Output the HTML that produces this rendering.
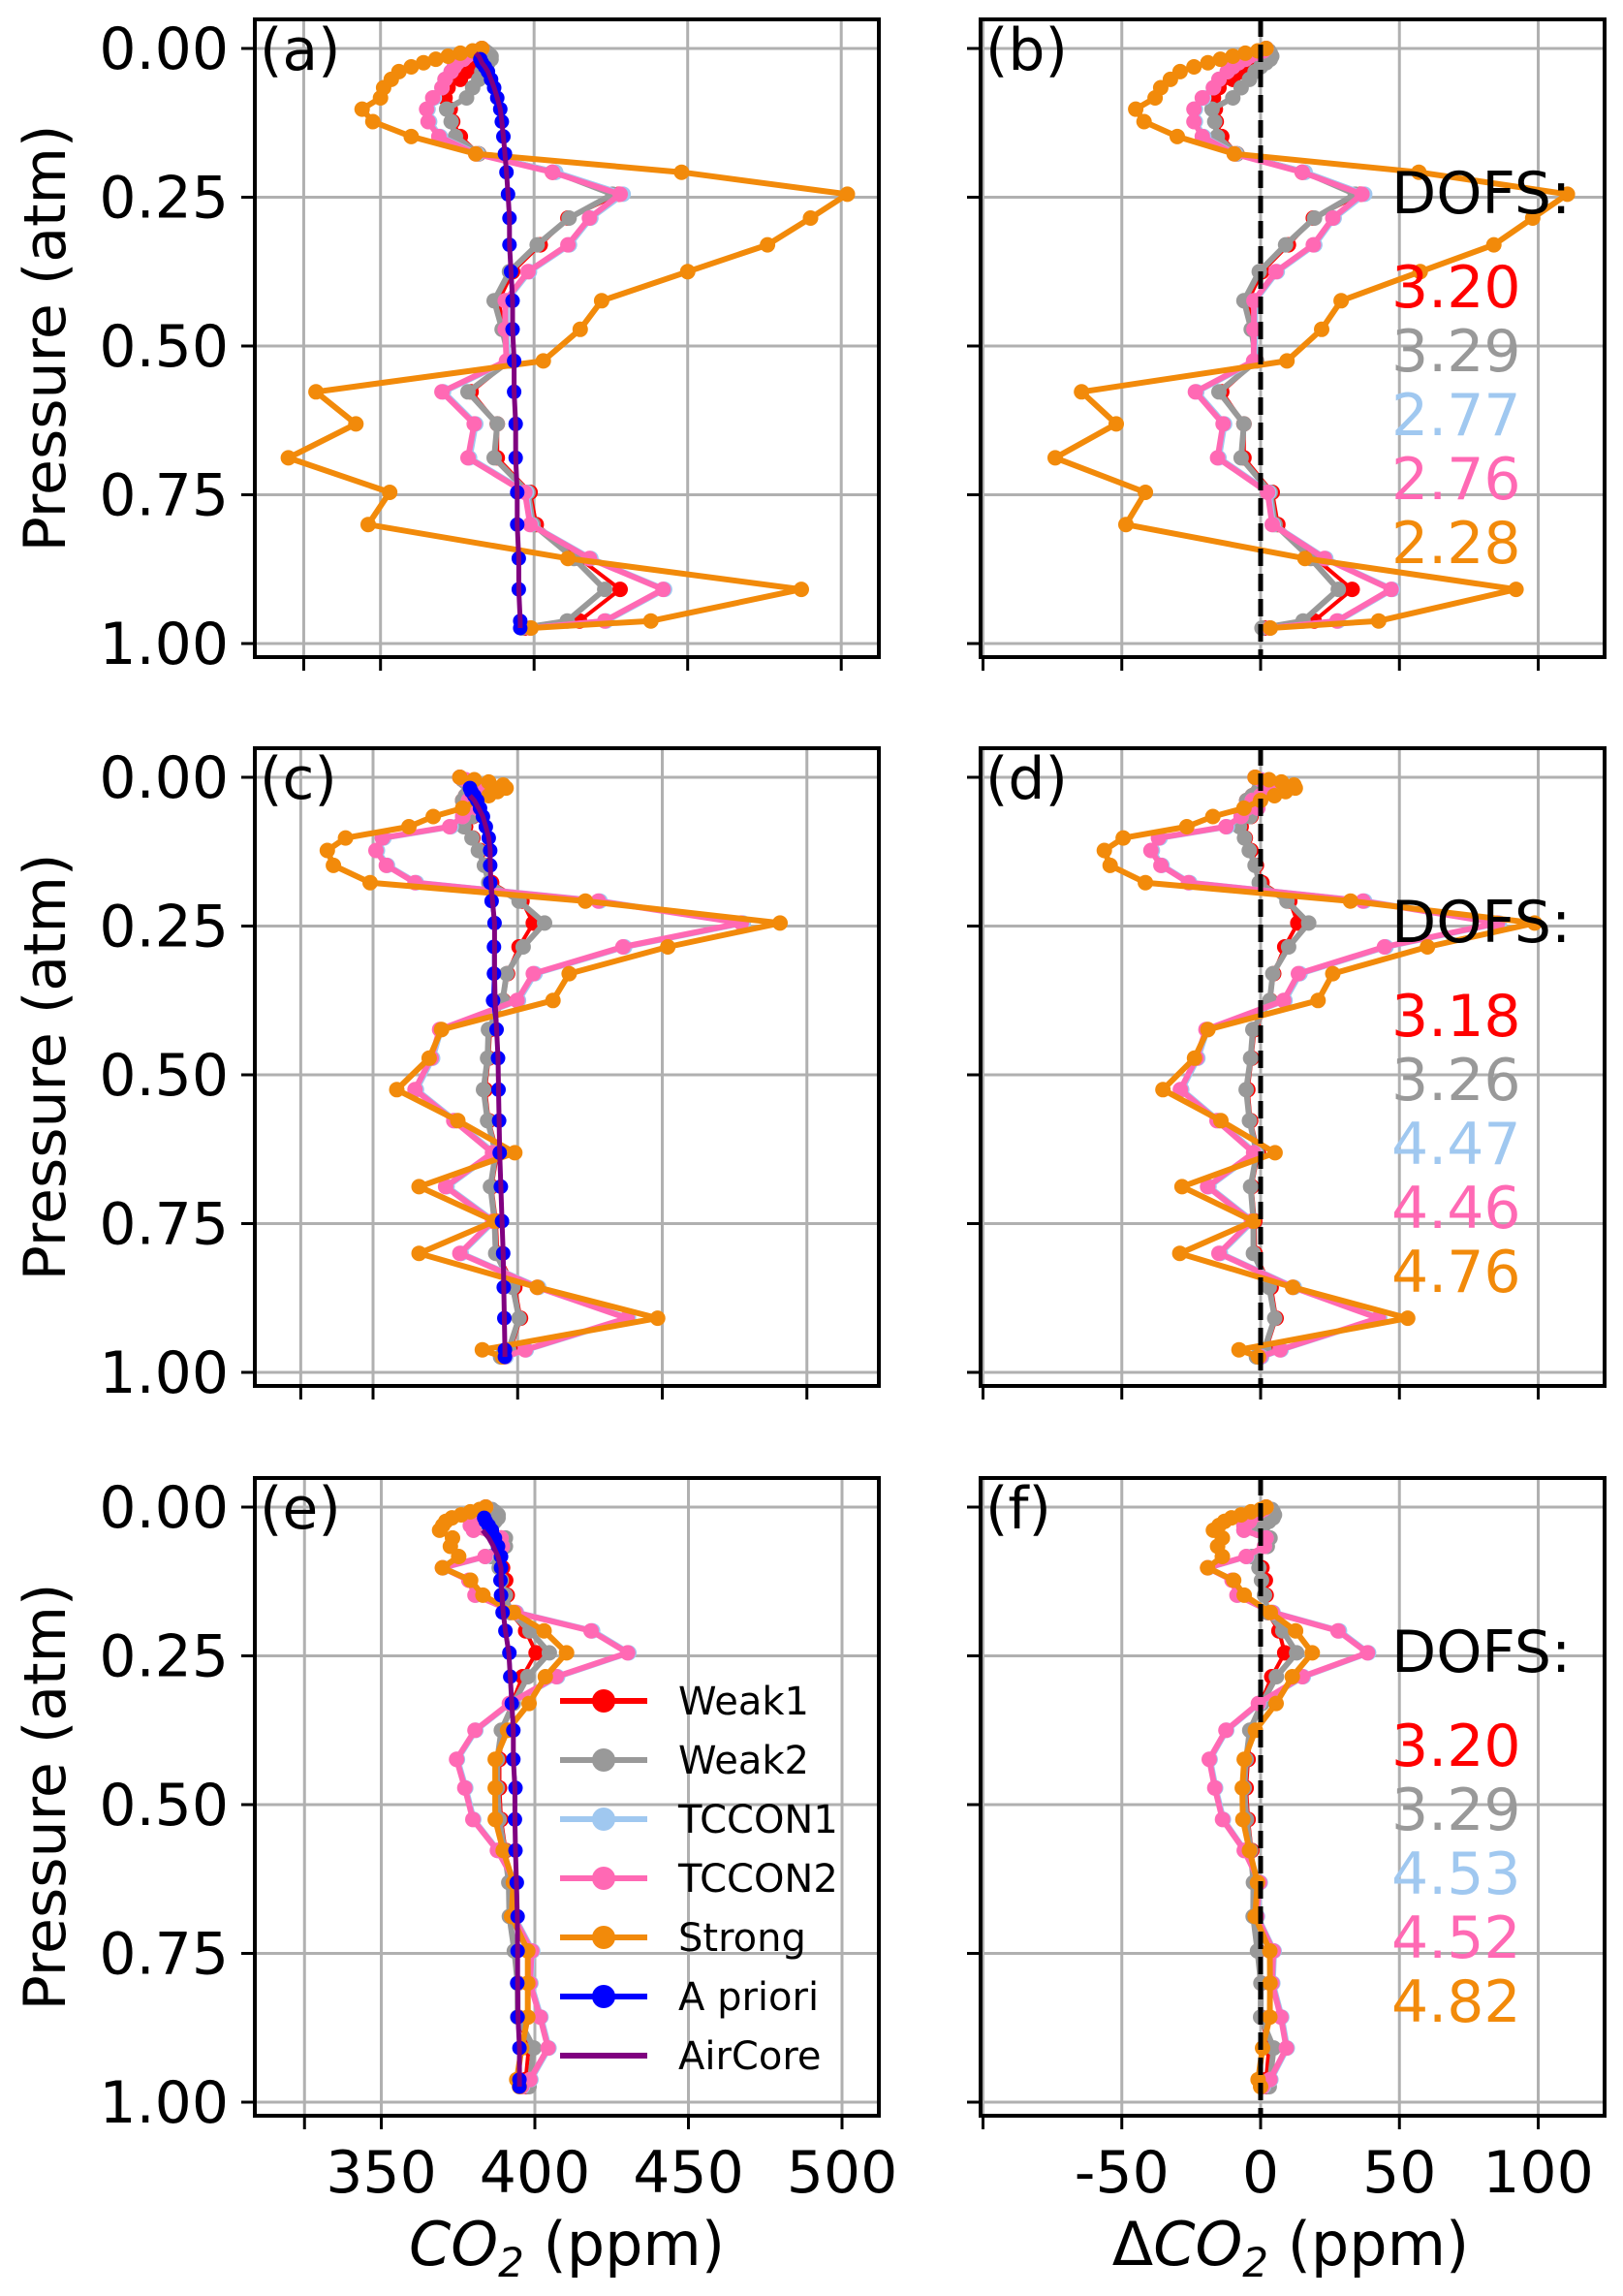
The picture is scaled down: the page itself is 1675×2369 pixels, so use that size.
<!DOCTYPE html>
<html><head><meta charset="utf-8"><style>
html,body{margin:0;padding:0;background:#fff}
svg{display:block;font-family:"DejaVu Sans","Liberation Sans",sans-serif}
</style></head><body>
<svg id="chart" xmlns="http://www.w3.org/2000/svg" width="1675" height="2369" viewBox="0 0 1675 2369"></svg>
<script>
const levels = [0,0.004,0.008,0.013,0.018,0.024,0.031,0.039,0.052,0.066,0.083,0.102,0.123,0.148,0.177,0.208,0.245,0.285,0.33,0.375,0.424,0.472,0.525,0.577,0.631,0.688,0.746,0.80,0.857,0.909,0.962,0.974];
// panel (a)
const weak1A = [383,383,383,382,381,380,379,378,376,372,371,372.7,373.5,376,382,406,427.6,411,402,393,388.5,390,392,379.5,388,388,398.7,400.7,414.8,428,414.8,397];
const weak2A = [383,384,385,386,386,385,384,383,382,380,378,371.5,373,374.4,382,407,425.6,411.4,401,392,387,389.6,392,378.5,388,387,398,399.7,413,423,410.8,396];
const tccon1A = [383,382,380,378,377,375,374,373,371,370,367.5,365.5,366,369.5,381.5,407,429,418.5,411.5,398.5,391,391,391.5,370.5,381,379,397.5,399,418.5,442.5,423.5,399];
const tccon2A = [383,382,380,378,377,375,374,373,371,370,367,365,365.5,369,381,406,428,418,411,398,390.6,390.6,391,370,380.5,378.5,397,398.7,418,442,423,398.7];
const strongA = [383,380,376,372,368,364,360,356,353.5,351,350,344,347.5,360,381,448,502,490,476,450,422,415,403,329,342,320,353,346,411,487,438,399];
const aprioriA = [381,381,381.5,382,382.5,383,384,385,386,387,388,389,389.5,390,390.5,391,391.5,392,392,392.5,393,393,393.5,393.5,394,394,394.5,394.5,395,395,395.5,395.5];
const aircoreA = [null,null,381,382,382.5,383,384,385,386,387,388,389,389.5,390,390.5,391,391.5,392,392,392.5,393,393,393.5,393.5,394,394,394.5,394.5,395,395,395.5,395.5];
// panel (c)
const weak1C = [380,381,382,383,384,383,382,381,383,384.5,382,384.5,387,389,391,401.5,405.4,400.5,396.5,395,390.5,390,388.8,390,393,391,392.5,393,399,401,397.5,394.5];
const weak2C = [380,381,382,383,384,383,382,381,382.8,384.2,381.4,384.2,386.4,388.5,390,400.5,409.3,401.9,396.2,394.8,389.9,389.6,388.2,389.6,392.4,390.6,392,392.4,398.3,400.5,396.9,394.1];
const tccon1C = [380,382,384,386,387,386,385,383,386,381,377,353.8,351.5,355,365,428.5,478,437,406,400.3,373.5,370.6,365,378.4,391.8,375.6,391.8,380.5,407.3,438.3,403,396];
const tccon2C = [380,382,384,386,387,386,385,383,386,381,376.5,353.2,351,354.6,364.5,427.9,477.3,436.4,405.4,399.8,373,370.1,364.5,377.9,391.3,375.1,391.3,380,406.8,437.8,402.6,395.5];
const strongC = [380,385,390,395,396,393,390,386,381,370.8,362.4,340.5,334.2,336.3,349,423.4,490.7,451.9,417.8,412.2,373.7,369.4,358.2,379.3,399,365.9,392,365.9,406.8,448.4,387.8,394.8];
const aprioriC = [382,382,382.5,383,383.5,384,385,386,387,388,389,390,390.5,390.5,390.5,391,392,391.8,391.8,391.5,392.7,393.2,393.4,393.6,393.8,394.2,394.6,395,395.2,395.4,395.6,395.6];
const aircoreC = [null,null,null,null,null,null,383.5,385,386.5,388,389,390,390.5,390.5,390.8,391.3,392,392,392,392.2,392.7,393.2,393.4,393.6,393.8,394.2,394.6,395,395.2,395.4,395.6,395.6];
// panel (e)
const weak1E = [384,385,386,387,387,386,385,385,389,390,387,389.5,390.5,391,392,397,400.4,396,392.5,389.5,388.5,388.5,389,390.5,392,392,393.5,394.5,394.6,398,397,397];
const weak2E = [384,386,387,388,388,387,386,385,390.4,390.4,385.8,388.4,389.1,390.4,392,398.4,404.7,397.7,393,389.1,387.8,387.8,388.4,390.1,391.5,391.7,393.3,394.4,394.4,399.7,398.4,398.1];
const tccon1E = [384,383,382,381,380,380,379,380,389,389.4,384,370.2,378.8,380.8,394,418.8,430.6,407.4,392,380.8,374.8,377.5,380.1,388,394,393.3,399.3,398.7,402,404.6,398.7,396];
const tccon2E = [384,383,382,381,380,380,379,380,389,389.4,383.8,369.9,378.5,380.5,393.7,418.3,430.2,407,391.7,380.5,374.5,377.2,379.8,387.8,393.7,393,399,398.4,401.7,404.3,398.4,395.7];
const strongE = [384,382,379,376,373,371,370,369,373.2,372.5,375.2,369.9,379.1,383.1,393,403,410.3,403.4,398.1,391.1,387.1,387.1,387.1,389.7,393,392.4,397.7,397.7,397.7,395.7,394.1,395];
const aprioriE = [382,382,382.5,383,383.5,384,385,386,387,388,389,389,388.8,389,389.5,390.4,391.7,392,392.5,393,393,393.7,393.5,393.7,394.1,394.4,394.4,394.3,394.4,395,395,395];
const aircoreE = [null,null,null,null,null,null,null,383,385,386.5,388,389,389,389.3,389.7,390.4,391.5,392,392.5,393,393,393.5,393.5,393.7,394,394.3,394.4,394.4,394.5,395,395,395];
// DOFS
const dofsB = ["3.20","3.29","2.77","2.76","2.28"];
const dofsD = ["3.18","3.26","4.47","4.46","4.76"];
const dofsF = ["3.20","3.29","4.53","4.52","4.82"];
const pTicks = [0,0.25,0.5,0.75,1.0];
const pTickLabels = ["0.00","0.25","0.50","0.75","1.00"];
const co2Ticks = [325,350,400,450,500];
const co2TickLabels = ["","350","400","450","500"];
const dTicks = [-100,-50,0,50,100];
const dTickLabels = ["","-50","0","50","100"];
const seriesNames = ["Weak1","Weak2","TCCON1","TCCON2","Strong","A priori","AirCore"];

const COL = {w1:"#ff0000",w2:"#999999",t1:"#a0c8f0",t2:"#ff69b4",st:"#f28a0a",ap:"#0000ff",ac:"#800080"};
const NS = "http://www.w3.org/2000/svg";
const svg = document.getElementById("chart");
function mk(tag, attrs, parent){const e=document.createElementNS(NS,tag);for(const k in attrs)e.setAttribute(k,attrs[k]);(parent||svg).appendChild(e);return e;}

const rowY0 = [50,802,1555];
const PH = 614;
const LX = [263,907], RX = [1012,1656];
const leftScale = [{x350:392.7,k:3.17},{x350:385,k:2.985},{x350:393.5,k:3.17}];
function yP(r,p){return rowY0[r]+p*PH;}
function xL(r,v){return leftScale[r].x350+(v-350)*leftScale[r].k;}
function xR(d){return 1301+d*2.865;}

const rows = [
 {lab:["(a)","(b)"], s:[weak1A,weak2A,tccon1A,tccon2A,strongA], ap:aprioriA, ac:aircoreA, dofs:dofsB},
 {lab:["(c)","(d)"], s:[weak1C,weak2C,tccon1C,tccon2C,strongC], ap:aprioriC, ac:aircoreC, dofs:dofsD},
 {lab:["(e)","(f)"], s:[weak1E,weak2E,tccon1E,tccon2E,strongE], ap:aprioriE, ac:aircoreE, dofs:dofsF}
];
const sCols = [COL.w1,COL.w2,COL.t1,COL.t2,COL.st];
const sKeys = ["weak1","weak2","tccon1","tccon2","strong"];
const sLW = [4,6,6,6,6];

function drawSeries(g, xs, ys, color, lw, r, name){
  const sg = mk("g",{},g);
  
  
  let d="", started=false;
  for(let i=0;i<xs.length;i++){ if(xs[i]==null){started=false;continue;} d+=(started?"L":"M")+xs[i].toFixed(1)+" "+ys[i].toFixed(1); started=true; }
  mk("path",{d:d,fill:"none",stroke:color,"stroke-width":lw,"stroke-linejoin":"round"},sg);
  if(r>0) for(let i=0;i<xs.length;i++){ if(xs[i]==null)continue; mk("circle",{cx:xs[i].toFixed(1),cy:ys[i].toFixed(1),r:r,fill:color},sg); }
}

rows.forEach((row,r)=>{
  const top = rowY0[r]-30, bot = rowY0[r]+PH+14;
  [0,1].forEach(side=>{
    const X = side?RX:LX;
    const g = mk("g",{});
    
    
    const cid = "clip"+r+side;
    const cp = mk("clipPath",{id:cid},g);
    mk("rect",{x:X[0],y:top,width:X[1]-X[0],height:bot-top},cp);
    const gg = mk("g",{stroke:"#b0b0b0","stroke-width":3,"clip-path":"url(#"+cid+")"},g);
    
    
    pTicks.forEach(p=>mk("line",{x1:X[0],x2:X[1],y1:yP(r,p),y2:yP(r,p)},gg));
    (side?dTicks:co2Ticks).forEach(v=>{const x=side?xR(v):xL(r,v); mk("line",{x1:x,x2:x,y1:top,y2:bot},gg);});
    const dg = mk("g",{"clip-path":"url(#"+cid+")"},g);
    const ys = levels.map(p=>yP(r,p));
    row.s.forEach((arr,i)=>{
      const xs = side ? arr.map((v,j)=>xR(v-row.ap[j])) : arr.map(v=>xL(r,v));
      drawSeries(dg, xs, ys, sCols[i], sLW[i], 8, sKeys[i]+(side?"-delta-line":"-line"));
    });
    if(!side){
      drawSeries(dg, row.ap.map((v,j)=>j<4?null:xL(r,v)), ys, COL.ap, 4, 7.5, "apriori-line");
      drawSeries(dg, row.ac.map(v=>v==null?null:xL(r,v)), ys, COL.ac, 5, 0, "aircore-line");
    } else {
      const zl = mk("line",{x1:xR(0),x2:xR(0),y1:top,y2:bot,stroke:"#000","stroke-width":5,"stroke-dasharray":"18 8"},dg);
      
      
    }
    const fr = mk("rect",{x:X[0],y:top,width:X[1]-X[0],height:bot-top,fill:"none",stroke:"#000","stroke-width":4},g);
    
    
    pTicks.forEach((p,i)=>{
      mk("line",{x1:X[0]-14,x2:X[0],y1:yP(r,p),y2:yP(r,p),stroke:"#000","stroke-width":3},g);
      if(!side){ const t=mk("text",{x:236,y:yP(r,p)+21,"font-size":60,"text-anchor":"end",fill:"#000"},g); t.textContent=pTickLabels[i];
          }
    });
    (side?dTicks:co2Ticks).forEach((v,i)=>{
      const x=side?xR(v):xL(r,v);
      mk("line",{x1:x,x2:x,y1:bot,y2:bot+14,stroke:"#000","stroke-width":3},g);
      if(r===2){ const lbl=(side?dTickLabels:co2TickLabels)[i]; if(lbl){
        const t=mk("text",{x:x,y:2262,"font-size":60,"text-anchor":"middle",fill:"#000"},g); t.textContent=lbl;
          } }
    });
    const pl = mk("text",{x:X[0]+5,y:rowY0[r]+22,"font-size":60,fill:"#000"},g);
    pl.textContent=row.lab[side];
    
    
    if(side){
      const dt = mk("text",{x:1436,y:rowY0[r]+170,"font-size":60,fill:"#000"},g);
      dt.textContent="DOFS:";
      
      
      row.dofs.forEach((v,i)=>{
        const t=mk("text",{x:1436,y:rowY0[r]+267+i*66,"font-size":60,fill:sCols[i]},g);
        t.textContent=v;
        
        
      });
    }
  });
  const yl = mk("text",{x:0,y:0,"font-size":60,"text-anchor":"middle",transform:"translate(67,"+(rowY0[r]+PH/2-8)+") rotate(-90)",fill:"#000"});
  yl.textContent="Pressure (atm)";
  
  
});

const lg = mk("g",{});


const lcols=[COL.w1,COL.w2,COL.t1,COL.t2,COL.st,COL.ap,COL.ac];
seriesNames.forEach((n,i)=>{
  const y=1755+i*61;
  const e=mk("g",{},lg);
  
  
  mk("line",{x1:578,x2:668,y1:y,y2:y,stroke:lcols[i],"stroke-width":6},e);
  if(i<6) mk("circle",{cx:623,cy:y,r:12,fill:lcols[i]},e);
  const t=mk("text",{x:700,y:y+14,"font-size":40,fill:"#000"},e); t.textContent=n;
});

const x1=mk("text",{x:585,y:2337,"font-size":62,"text-anchor":"middle",fill:"#000"});
x1.innerHTML='<tspan font-style="italic">CO</tspan><tspan font-style="italic" font-size="42" dy="12">2</tspan><tspan dy="-12"> (ppm)</tspan>';


const x2=mk("text",{x:1332,y:2337,"font-size":62,"text-anchor":"middle",fill:"#000"});
x2.innerHTML='<tspan>Δ</tspan><tspan font-style="italic">CO</tspan><tspan font-style="italic" font-size="42" dy="12">2</tspan><tspan dy="-12"> (ppm)</tspan>';


</script>
</body></html>
